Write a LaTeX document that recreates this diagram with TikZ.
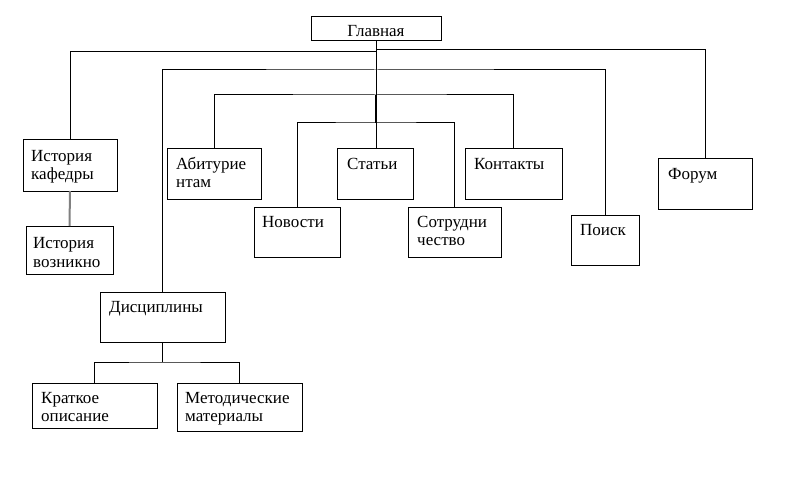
\documentclass[tikz,border=0pt]{standalone}
\usepackage{fontspec}
\setmainfont{Liberation Serif}
\begin{document}
\begin{tikzpicture}[x=1pt,y=-1pt,
  box/.style={draw=black,line width=1pt,fill=white,inner sep=0pt,outer sep=0pt,anchor=north west},
  lbl/.style={inner sep=0pt,anchor=base west,align=left,font=\fontsize{17pt}{18.5pt}\selectfont},
  conn/.style={draw=black,line width=1pt},
  gconn/.style={draw=black!50,line width=2pt}]
\useasboundingbox (0,0) rectangle (810,489);
\fill[white] (0,0) rectangle (810,489);

% boxes
\node[box,minimum width=130pt,minimum height=24pt] (glav) at (311,17) {};
\node[box,minimum width=94pt,minimum height=51pt] (ist) at (23,140) {};
\node[box,minimum width=87pt,minimum height=48pt] (voz) at (26,226) {};
\node[box,minimum width=94pt,minimum height=50pt] (abit) at (167,149) {};
\node[box,minimum width=76pt,minimum height=50pt] (stat) at (337,149) {};
\node[box,minimum width=86pt,minimum height=50pt] (nov) at (254,207) {};
\node[box,minimum width=93pt,minimum height=50pt] (sotr) at (408,207) {};
\node[box,minimum width=97pt,minimum height=50pt] (kont) at (465,149) {};
\node[box,minimum width=68pt,minimum height=50pt] (poisk) at (571,215) {};
\node[box,minimum width=94pt,minimum height=50pt] (forum) at (658,159) {};
\node[box,minimum width=125pt,minimum height=50pt] (disc) at (100,292) {};
\node[box,minimum width=125pt,minimum height=45pt] (krat) at (32,383) {};
\node[box,minimum width=125pt,minimum height=48pt] (metod) at (177,383) {};

% labels (two-line labels: base anchor is the last line)
\node[lbl,anchor=base] (glavT) at ([yshift=-20pt]glav.north) {Главная};
\node[lbl] (istT) at ([xshift=8pt,yshift=-39.5pt]ist.north west) {История\\кафедры};
\node[lbl] (vozT) at ([xshift=7pt,yshift=-41pt]voz.north west) {История\\возникно};
\node[lbl] (abitT) at ([xshift=9pt,yshift=-38.5pt]abit.north west) {Абитурие\\нтам};
\node[lbl] (statT) at ([xshift=10pt,yshift=-20pt]stat.north west) {Статьи};
\node[lbl] (novT) at ([xshift=8pt,yshift=-20pt]nov.north west) {Новости};
\node[lbl] (sotrT) at ([xshift=9pt,yshift=-38.5pt]sotr.north west) {Сотрудни\\чество};
\node[lbl] (kontT) at ([xshift=9pt,yshift=-20pt]kont.north west) {Контакты};
\node[lbl] (poiskT) at ([xshift=9pt,yshift=-20pt]poisk.north west) {Поиск};
\node[lbl] (forumT) at ([xshift=10pt,yshift=-20pt]forum.north west) {Форум};
\node[lbl] (discT) at ([xshift=9pt,yshift=-20pt]disc.north west) {Дисциплины};
\node[lbl] (kratT) at ([xshift=9pt,yshift=-38.5pt]krat.north west) {Краткое\\описание};
\node[lbl] (metodT) at ([xshift=8pt,yshift=-38.5pt]metod.north west) {Методические\\материалы};

% connectors
\draw[conn] (glav.south) -- (glav.south |- stat.north);
\draw[conn,line width=2pt] ([yshift=-54pt]glav.south) -- ([yshift=-82pt]glav.south);
\draw[conn] ([yshift=-9pt]glav.south) -| (forum.north);
\draw[conn] ([yshift=-11pt]glav.south) -| (ist.north);
\draw[conn] (disc.north) |- ([yshift=-29pt]glav.south) -| (poisk.north);
\draw[conn] (abit.north) |- ([yshift=-54pt]glav.south) -| (kont.north);
\draw[conn] (nov.north) |- ([yshift=-82pt]glav.south) -| (sotr.north);
\draw[gconn] (ist.south) -- (voz.north);
\draw[conn] (disc.south) -- ++(0,20) coordinate (dj);
\draw[conn] (krat.north) |- (dj) -| (metod.north);
\end{tikzpicture}
\end{document}
